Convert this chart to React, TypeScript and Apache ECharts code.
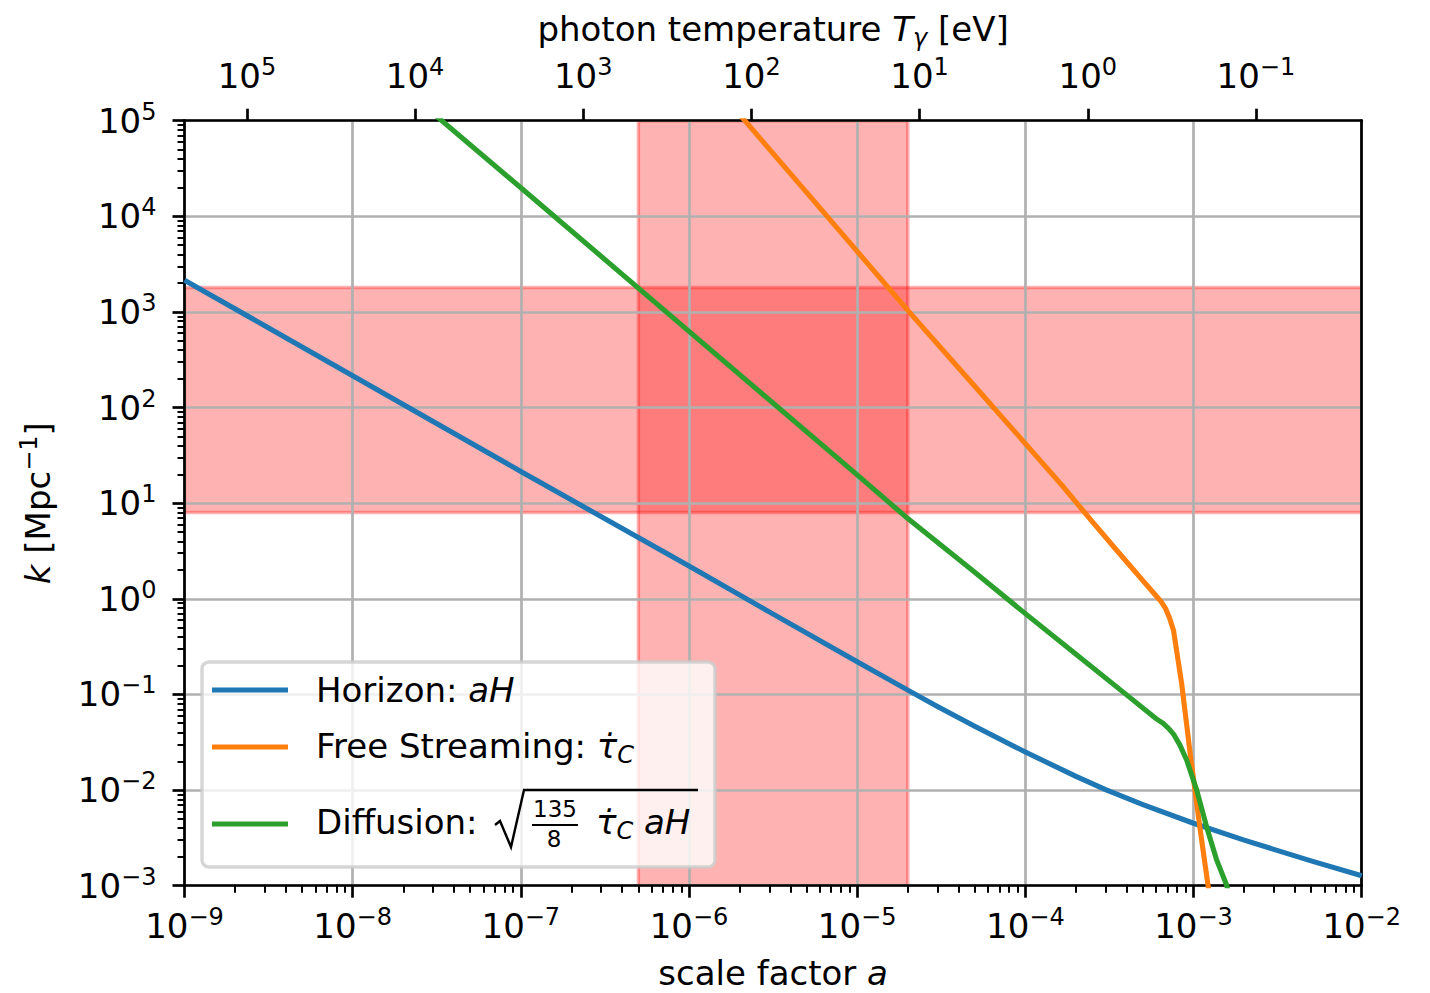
import React, { useEffect, useRef } from 'react';
import * as echarts from 'echarts';

const FONT = 'DejaVu Sans';
const COLORS = ['#1f77b4', '#ff7f0e', '#2ca02c'];

// axis ranges
const X_MIN = 1e-9;
const X_MAX = 1e-2;
const Y_MIN = 1e-3;
const Y_MAX = 1e5;

// photon temperature today (eV) used for the top axis: T = T0 / a
const T0 = 2.35e-4;
const topTickExponents = [5, 4, 3, 2, 1, 0, -1];

// Horizon: aH
const horizonA = [1e-9, 3e-9, 1e-8, 1e-7, 1e-6, 3e-6, 1e-5, 2e-5, 3e-5, 5e-5, 1e-4, 2e-4, 3e-4, 5e-4, 1e-3, 2e-3, 3e-3, 5e-3, 1e-2];
const horizonK = [2150, 717, 215, 21.5, 2.2, 0.73, 0.22, 0.111, 0.075, 0.0465, 0.025, 0.0139, 0.0101, 0.00705, 0.0045, 0.003, 0.0024, 0.00182, 0.00127];

// Free streaming: tau_C dot
const freeA = [2e-6, 5e-6, 1e-5, 2e-5, 5e-5, 1e-4, 1.7e-4, 2.5e-4, 3.5e-4, 5e-4, 6e-4, 6.4e-4, 6.8e-4, 7.2e-4, 7.6e-4, 8.5e-4, 9.5e-4, 1.09e-3, 1.22e-3, 1.3e-3];
const freeK = [1.16e5, 17800, 4300, 1040, 167, 42, 14.5, 6.4, 3.2, 1.55, 1.07, 0.94, 0.8, 0.63, 0.47, 0.13, 0.026, 0.0041, 0.00101, 0.00045];

// Diffusion: sqrt(135/8 tau_C aH)
const diffA = [3e-8, 1e-7, 1e-6, 1e-5, 2e-5, 5e-5, 1e-4, 2e-4, 4e-4, 6e-4, 6.6e-4, 7.1e-4, 7.6e-4, 8.3e-4, 9.1e-4, 1.045e-3, 1.197e-3, 1.374e-3, 1.574e-3, 1.7e-3];
const diffK = [1.2e5, 19900, 627, 19.8, 6.9, 1.9, 0.70, 0.264, 0.099, 0.0557, 0.0498, 0.0442, 0.0385, 0.0295, 0.0206, 0.00998, 0.00412, 0.00185, 0.00101, 0.00056];

// shaded regions
const bandA = [5e-7, 2e-5];
const bandK = [8, 1800];

const legendNames = ['Horizon', 'Free Streaming', 'Diffusion'];

const pairs = (xs: number[], ys: number[]) => xs.map((x, i) => [x, ys[i]]);

const expText = (e: number) => (e < 0 ? '\u2212' + -e : String(e));
const powLabel = (e: number) => '10{sup|' + expText(e) + '}';

const minorX: number[] = [];
for (let e = -9; e < -2; e++) for (let m = 2; m <= 9; m++) minorX.push(e + Math.log10(m));
const minorY: number[] = [];
for (let e = -3; e < 5; e++) for (let m = 2; m <= 9; m++) minorY.push(e + Math.log10(m));
const topTicks = topTickExponents.map((e) => Math.log10(T0) - e);

const BLACK = '#000000';
const SPINE = 2.7;
const LW = 5.1;

const labelRich = {
  sup: { fontSize: 24, lineHeight: 24, verticalAlign: 'top', fontFamily: FONT, color: BLACK },
};
const labelStyle = {
  fontSize: 34,
  fontFamily: FONT,
  color: BLACK,
  lineHeight: 42,
  rich: labelRich,
};

export default function App() {
  const ref = useRef<HTMLDivElement>(null);
  useEffect(() => {
    if (!ref.current) return;
    const chart = echarts.init(ref.current, null, { renderer: 'svg' });
    const axisCommon = {
      axisLine: { show: true, onZero: false, lineStyle: { color: BLACK, width: SPINE } },
      axisTick: { show: true, inside: false, length: 12, lineStyle: { color: BLACK, width: SPINE } },
    };
    const lineSeries = (i: number, xs: number[], ys: number[]) => ({
      type: 'line',
      name: legendNames[i],
      xAxisIndex: 0,
      yAxisIndex: 0,
      data: pairs(xs, ys),
      showSymbol: false,
      symbol: 'none',
      smooth: false,
      lineStyle: { color: COLORS[i], width: LW, join: 'round', cap: 'butt' },
      itemStyle: { color: COLORS[i] },
      z: 3,
    });
    const option: any = {
      animation: false,
      backgroundColor: '#ffffff',
      grid: { left: 184.5, right: 68.3, top: 120.7, bottom: 107.3, containLabel: false, outerBoundsMode: 'none', show: false },
      xAxis: [
        {
          type: 'log',
          logBase: 10,
          position: 'bottom',
          min: X_MIN,
          max: X_MAX,
          ...axisCommon,
          axisLabel: {
            ...labelStyle,
            margin: 19,
            interval: 0,
            formatter: (v: number) => powLabel(Math.round(Math.log10(v))),
          },
          splitLine: { show: true, lineStyle: { color: '#b0b0b0', width: SPINE } },
          minorTick: { show: false },
          name: 'scale factor {i|a}',
          nameLocation: 'middle',
          nameGap: 64,
          nameTextStyle: {
            fontSize: 34,
            fontFamily: FONT,
            color: BLACK,
            lineHeight: 42,
            rich: { i: { fontSize: 34, fontFamily: FONT, fontStyle: 'italic', color: BLACK, lineHeight: 42 } },
          },
        },
        {
          type: 'value',
          position: 'top',
          min: -9,
          max: -2,
          ...axisCommon,
          axisTick: { ...axisCommon.axisTick, customValues: topTicks },
          axisLabel: {
            ...labelStyle,
            margin: 24,
            customValues: topTicks,
            formatter: (v: number) => powLabel(Math.round(Math.log10(T0) - v)),
          },
          splitLine: { show: false },
          name: 'photon temperature {i|T}{sub|\u03b3} [eV]',
          nameLocation: 'middle',
          nameGap: 68,
          nameTextStyle: {
            fontSize: 34,
            fontFamily: FONT,
            color: BLACK,
            lineHeight: 42,
            rich: {
              i: { fontSize: 34, fontFamily: FONT, fontStyle: 'italic', color: BLACK, lineHeight: 42 },
              sub: { fontSize: 24, fontFamily: FONT, fontStyle: 'italic', color: BLACK, lineHeight: 24, verticalAlign: 'bottom' },
            },
          },
        },
        {
          type: 'value',
          position: 'bottom',
          min: -9,
          max: -2,
          axisLine: { show: false, onZero: false },
          axisTick: { show: true, inside: false, length: 7, customValues: minorX, lineStyle: { color: BLACK, width: 2 } },
          axisLabel: { show: false },
          splitLine: { show: false },
        },
      ],
      yAxis: [
        {
          type: 'log',
          logBase: 10,
          position: 'left',
          min: Y_MIN,
          max: Y_MAX,
          ...axisCommon,
          axisLabel: {
            ...labelStyle,
            margin: 28,
            interval: 0,
            formatter: (v: number) => powLabel(Math.round(Math.log10(v))),
          },
          splitLine: { show: true, lineStyle: { color: '#b0b0b0', width: SPINE } },
          minorTick: { show: false },
          name: '{i|k} [Mpc{sup|\u22121}]',
          nameLocation: 'middle',
          nameGap: 126,
          nameRotate: 90,
          nameTextStyle: {
            fontSize: 34,
            fontFamily: FONT,
            color: BLACK,
            lineHeight: 42,
            rich: {
              i: { fontSize: 34, fontFamily: FONT, fontStyle: 'italic', color: BLACK, lineHeight: 42 },
              sup: { fontSize: 24, fontFamily: FONT, color: BLACK, lineHeight: 24, verticalAlign: 'top' },
            },
          },
        },
        {
          type: 'value',
          position: 'left',
          min: -3,
          max: 5,
          axisLine: { show: false, onZero: false },
          axisTick: { show: true, inside: false, length: 7, customValues: minorY, lineStyle: { color: BLACK, width: 2 } },
          axisLabel: { show: false },
          splitLine: { show: false },
        },
        {
          type: 'value',
          position: 'right',
          min: -3,
          max: 5,
          axisLine: { show: true, onZero: false, lineStyle: { color: BLACK, width: SPINE } },
          axisTick: { show: false },
          axisLabel: { show: false },
          splitLine: { show: false },
        },
      ],
      series: [
        {
          type: 'custom',
          name: 'bands',
          xAxisIndex: 0,
          yAxisIndex: 0,
          z: -1,
          silent: true,
          clip: true,
          encode: { x: [0, 1], y: [2, 3] },
          data: [
            [bandA[0], bandA[1], Y_MIN, Y_MAX],
            [X_MIN, X_MAX, bandK[0], bandK[1]],
          ],
          renderItem: (params: any, api: any) => {
            const p0 = api.coord([api.value(0), api.value(3)]);
            const p1 = api.coord([api.value(1), api.value(2)]);
            return {
              type: 'rect',
              shape: { x: p0[0], y: p0[1], width: p1[0] - p0[0], height: p1[1] - p0[1] },
              style: { fill: 'rgba(255,0,0,0.3)', stroke: 'rgba(255,0,0,0.3)', lineWidth: 3.4 },
            };
          },
        },
        lineSeries(0, horizonA, horizonK),
        lineSeries(1, freeA, freeK),
        lineSeries(2, diffA, diffK),
      ],
      graphic: {
        elements: [
          {
            type: 'rect',
            z: 20,
            shape: { x: 202, y: 662, width: 513, height: 205, r: 7 },
            style: { fill: 'rgba(255,255,255,0.8)', stroke: 'rgba(204,204,204,0.8)', lineWidth: 3.4 },
          },
          { type: 'line', z: 21, shape: { x1: 212, y1: 690, x2: 288, y2: 690 }, style: { stroke: COLORS[0], lineWidth: LW } },
          { type: 'line', z: 21, shape: { x1: 212, y1: 747, x2: 288, y2: 747 }, style: { stroke: COLORS[1], lineWidth: LW } },
          { type: 'line', z: 21, shape: { x1: 212, y1: 824, x2: 288, y2: 824 }, style: { stroke: COLORS[2], lineWidth: LW } },
          {
            type: 'text',
            z: 21,
            x: 316,
            y: 690,
            style: {
              text: legendNames[0] + ': {i|aH}',
              fontSize: 34,
              fontFamily: FONT,
              fill: BLACK,
              lineHeight: 42,
              verticalAlign: 'middle',
              align: 'left',
              rich: { i: { fontSize: 34, fontFamily: FONT, fontStyle: 'italic', fill: BLACK, lineHeight: 42 } },
            },
          },
          {
            type: 'text',
            z: 21,
            x: 316,
            y: 746,
            style: {
              text: legendNames[1] + ': {i|\u03c4\u0307}{sub|C}',
              fontSize: 34,
              fontFamily: FONT,
              fill: BLACK,
              lineHeight: 42,
              verticalAlign: 'middle',
              align: 'left',
              rich: {
                i: { fontSize: 34, fontFamily: FONT, fontStyle: 'italic', fill: BLACK, lineHeight: 42 },
                sub: { fontSize: 24, fontFamily: FONT, fontStyle: 'italic', fill: BLACK, lineHeight: 24, verticalAlign: 'bottom' },
              },
            },
          },
          {
            type: 'text',
            z: 21,
            x: 316,
            y: 822,
            style: {
              text: legendNames[2] + ':',
              fontSize: 34,
              fontFamily: FONT,
              fill: BLACK,
              verticalAlign: 'middle',
              align: 'left',
            },
          },
          {
            type: 'polyline',
            z: 21,
            shape: { points: [[495, 825], [500, 821], [511, 847], [524, 790], [698, 790]] },
            style: { stroke: BLACK, lineWidth: 2.4, fill: null },
          },
          {
            type: 'text',
            z: 21,
            x: 555,
            y: 809,
            style: { text: '135', fontSize: 23, fontFamily: FONT, fill: BLACK, verticalAlign: 'middle', align: 'center' },
          },
          { type: 'line', z: 21, shape: { x1: 532, y1: 825, x2: 578, y2: 825 }, style: { stroke: BLACK, lineWidth: 2 } },
          {
            type: 'text',
            z: 21,
            x: 554,
            y: 839,
            style: { text: '8', fontSize: 23, fontFamily: FONT, fill: BLACK, verticalAlign: 'middle', align: 'center' },
          },
          {
            type: 'text',
            z: 21,
            x: 596,
            y: 822,
            style: {
              text: '{i|\u03c4\u0307}{sub|C} {i|aH}',
              fontSize: 34,
              fontFamily: FONT,
              fill: BLACK,
              lineHeight: 42,
              verticalAlign: 'middle',
              align: 'left',
              rich: {
                i: { fontSize: 34, fontFamily: FONT, fontStyle: 'italic', fill: BLACK, lineHeight: 42 },
                sub: { fontSize: 24, fontFamily: FONT, fontStyle: 'italic', fill: BLACK, lineHeight: 24, verticalAlign: 'bottom' },
              },
            },
          },
        ],
      },
    };
    chart.setOption(option);
    return () => chart.dispose();
  }, []);
  return (
    <div
      ref={ref}
      style={{ position: 'fixed', left: 0, top: 0, width: 1430, height: 993, background: '#ffffff' }}
    />
  );
}
